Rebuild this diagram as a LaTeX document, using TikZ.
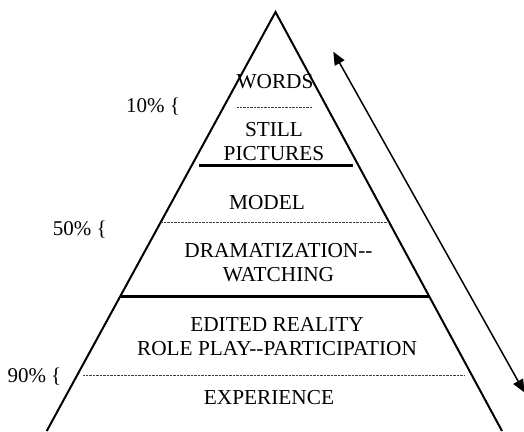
\documentclass[tikz,border=0pt]{standalone}
\usepackage{fontspec}
\setmainfont{Liberation Serif}
\usetikzlibrary{arrows.meta}

\tikzset{
  side/.style={line width=2pt},
  band/.style={line width=3pt},
  sub/.style={line width=0.7pt, black!75, dash pattern=on 0.7pt off 0.7pt},
  level/.style={font=\fontsize{21.3}{24}\selectfont, align=center, inner sep=0pt, anchor=base},
  pct/.style={font=\fontsize{21}{24}\selectfont, inner sep=0pt, anchor=base west},
}

\begin{document}
\begin{tikzpicture}[x=1pt, y=-1pt]
  \useasboundingbox (0,0) rectangle (524,431);

  %% pyramid
  \coordinate (apex) at (275.5,12);
  \coordinate (bl) at (46.7,431);
  \coordinate (br) at (502,431);
  \draw[side] (bl) -- (apex) -- (br);

  %% solid dividers
  \draw[band] (199,165.7) -- (352.7,165.7);
  \draw[band] (121,296.3) -- (429.5,296.3);

  %% dotted dividers
  \draw[sub] (237,107.3) -- (312,107.3);
  \draw[sub] (161,222.7) -- (388,222.7);
  \draw[sub] (83,375.7) -- (465,375.7);

  %% levels (base = last line)
  \node[level] (words) at (275,88.3) {WORDS};
  \node[level] (still) at (274,160.7) {STILL\\PICTURES};
  \node[level] (model) at (267,209) {MODEL};
  \node[level] (drama) at (278.5,281.7) {DRAMATIZATION-{}-\\WATCHING};
  \node[level] (edited) at (277,355) {EDITED REALITY\\ROLE PLAY-{}-PARTICIPATION};
  \node[level] (exper) at (269,404) {EXPERIENCE};

  %% retention
  \node[pct] (ten) at (126,112.7) {10\% \{};
  \node[pct] (fifty) at (52.7,235.7) {50\% \{};
  \node[pct] (ninety) at (7.3,382.3) {90\% \{};

  %% direction arrow
  \coordinate (up) at (333.3,51.7);
  \coordinate (down) at (524.5,392.5);
  \draw[line width=1.5pt, {Triangle[length=13pt,width=11pt]}-{Triangle[length=13pt,width=11pt]}] (up) -- (down);
\end{tikzpicture}
\end{document}
